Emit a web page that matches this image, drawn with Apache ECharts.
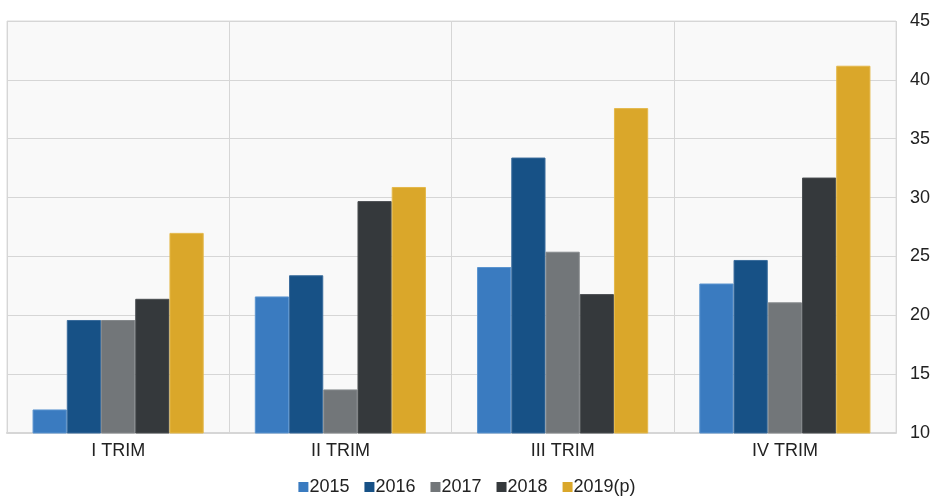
<!DOCTYPE html>
<html>
<head>
<meta charset="utf-8">
<script src="https://cdn.jsdelivr.net/npm/echarts@6/dist/echarts.min.js"></script>
<style>
  html, body { margin: 0; padding: 0; background: #ffffff; }
  #chart { width: 934px; height: 496px; }
</style>
</head>
<body>
<div id="chart"></div>
<script>
// Quarterly values per year
const quarters = ['I TRIM', 'II TRIM', 'III TRIM', 'IV TRIM'];
const years = ['2015', '2016', '2017', '2018', '2019(p)'];
const v2015 = [12.0, 21.6, 24.1, 22.7];
const v2016 = [19.6, 23.4, 33.4, 24.7];
const v2017 = [19.6, 13.7, 25.4, 21.1];
const v2018 = [21.4, 29.7, 21.8, 31.7];
const v2019 = [27.0, 30.9, 37.6, 41.2];
const yTicks = [10, 15, 20, 25, 30, 35, 40, 45];

const seriesValues = [v2015, v2016, v2017, v2018, v2019];
const colors = ['#3a7bc0', '#175186', '#727679', '#35393c', '#daa72a'];
const borders = ['#5b94cf', '#3a6c9c', '#85898c', '#4a4e51', '#e4b84a'];

const chart = echarts.init(document.getElementById('chart'), null, { renderer: 'canvas' });

chart.setOption({
  animation: false,
  textStyle: { fontFamily: 'Liberation Sans, Arial, sans-serif' },
  grid: { left: 7, right: 38, top: 21, bottom: 63, show: true, backgroundColor: '#f9f9f9', borderColor: '#dcdcdc', borderWidth: 1 },
  legend: {
    top: 478,
    left: 'center',
    padding: 0,
    itemWidth: 10,
    itemHeight: 10,
    itemGap: 15,
    icon: 'rect',
    itemStyle: { borderWidth: 0 },
    textStyle: { fontSize: 18, color: '#222', padding: [0, 0, 0, -4] },
    data: years
  },
  xAxis: {
    type: 'category',
    data: quarters,
    boundaryGap: true,
    axisLine: { show: true, lineStyle: { color: '#d6d6d6', width: 2 } },
    axisTick: { show: false },
    axisLabel: { fontSize: 18, color: '#222', margin: 9 },
    splitLine: { show: true, lineStyle: { color: '#d6d6d6', width: 1 } }
  },
  yAxis: {
    type: 'value',
    position: 'right',
    min: yTicks[0],
    max: yTicks[yTicks.length - 1],
    interval: 5,
    axisLine: { show: false },
    axisTick: { show: false },
    axisLabel: { fontSize: 18, color: '#222', margin: 14 },
    splitLine: { show: true, lineStyle: { color: '#d6d6d6', width: 1 } }
  },
  series: years.map((name, i) => ({
    name: name,
    type: 'bar',
    data: seriesValues[i],
    barGap: '0%',
    barCategoryGap: '23%',
    itemStyle: { color: colors[i], borderColor: borders[i], borderWidth: 1 }
  }))
});
</script>
</body>
</html>
